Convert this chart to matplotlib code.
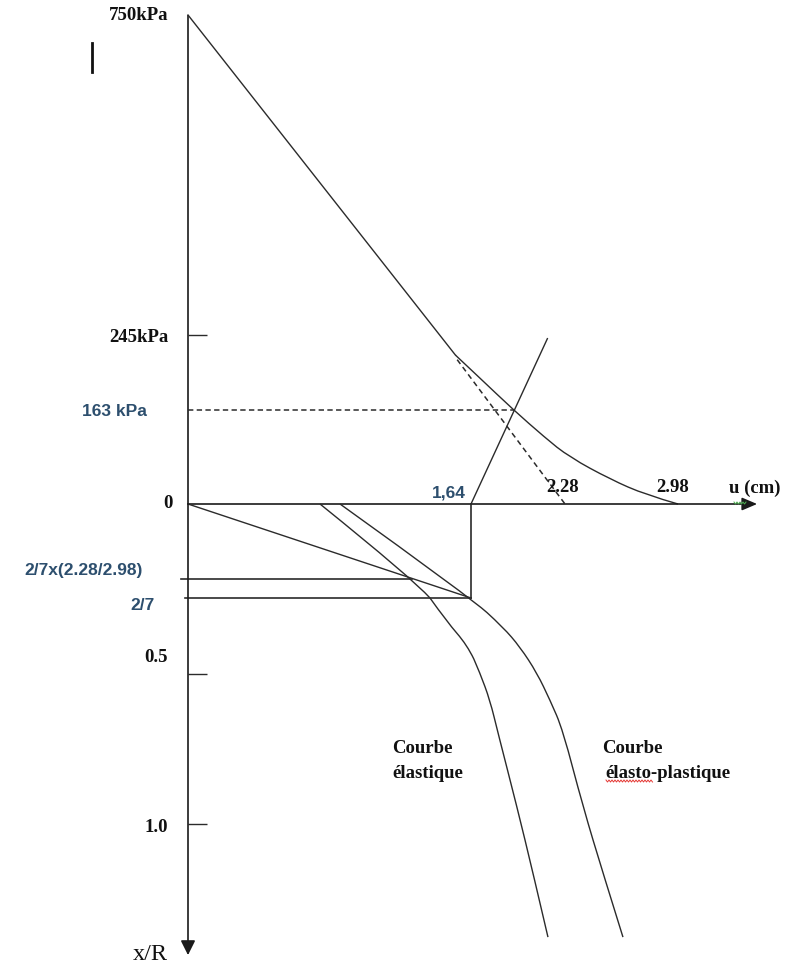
import numpy as np
import matplotlib
matplotlib.use("Agg")
import matplotlib.pyplot as plt
from matplotlib.path import Path
from matplotlib.patches import PathPatch

# ---------------------------------------------------------------------------
# Data (convergence-confinement diagram)
# ---------------------------------------------------------------------------
p_initial = 750.0          # kPa, initial support pressure
p_limit = 245.0            # kPa, elastic limit
p_equilibrium = 163.0      # kPa, equilibrium pressure
u_support = 1.64           # cm, displacement when the support is installed
u_elastic = 2.28           # cm, final elastic displacement
u_plastic = 2.98           # cm, final elasto-plastic displacement
r_install = 2 / 7          # x/R at installation
r_scaled = 2 / 7 * (u_elastic / u_plastic)

# Ground reaction curve: straight elastic branch, then plastic branch
grc_elastic_u = [0.0, 1.55]
grc_elastic_p = [750, 223]
grc_plastic_u = [1.55, 1.70, 1.93, 2.14, 2.31, 2.56, 2.78, 2.98]
grc_plastic_p = [223, 198, 163, 116, 81, 43, 16, 0]

# Elastic extension of the ground reaction curve
elastic_ext_u = [1.56, 2.28]
elastic_ext_p = [218, 0]

# Support confinement line
support_u = [1.64, 2.16]
support_p = [0, 241]

# Longitudinal displacement profiles (u in cm, x/R)
el_profile_u = [0.765, 1.304, 1.501, 1.617, 1.701, 1.769, 1.824,
                1.953, 2.062, 2.164]
el_profile_r = [0.0, 0.2186, 0.353, 0.418, 0.497, 0.587, 0.697,
                0.943, 1.163, 1.377]
ep_profile_u = [0.881, 1.64, 1.858, 1.974, 2.089, 2.178, 2.266, 2.392,
                2.515, 2.639]
ep_profile_r = [0.0, 0.2857, 0.368, 0.424, 0.497, 0.587, 0.687, 0.943,
                1.163, 1.377]

# Axis ends
u_axis_end = 3.47
r_axis_end = 1.437

# Tick values and labels
p_ticks = [750, 245, 0]
p_tick_labels = ["750kPa", "245kPa", "0"]
r_ticks = [0.5, 1.0]
r_tick_labels = ["0.5", "1.0"]

# ---------------------------------------------------------------------------
# Schematic (non-linear) scales: value anchors -> pixel positions
# ---------------------------------------------------------------------------
W, H = 794, 965
U_ANCHORS = [0.0, u_support, u_elastic, u_plastic]
U_PIXELS = [188, 471, 565, 678]
P_ANCHORS = [0.0, p_equilibrium, p_limit, p_initial]
P_PIXELS = [504, 410, 335, 15]
R_ANCHORS = [0.0, r_scaled, r_install, 0.5, 1.0]
R_PIXELS = [504, 579, 598, 674, 824]


def piecewise(xs, ys):
    xs = np.asarray(xs, float)
    ys = np.asarray(ys, float)
    s0 = (ys[1] - ys[0]) / (xs[1] - xs[0])
    s1 = (ys[-1] - ys[-2]) / (xs[-1] - xs[-2])

    def f(v):
        v = np.asarray(v, float)
        out = np.interp(v, xs, ys)
        out = np.where(v < xs[0], ys[0] + (v - xs[0]) * s0, out)
        out = np.where(v > xs[-1], ys[-1] + (v - xs[-1]) * s1, out)
        return out
    return f


u_fwd = piecewise(U_ANCHORS, U_PIXELS)
u_inv = piecewise(U_PIXELS, U_ANCHORS)
p_up = [H - v for v in P_PIXELS]
p_fwd = piecewise(P_ANCHORS, p_up)
p_inv = piecewise(p_up, P_ANCHORS)
r_fwd = piecewise(R_ANCHORS, R_PIXELS)
r_inv = piecewise(R_PIXELS, R_ANCHORS)

fig = plt.figure(figsize=(W / 100, H / 100), dpi=100)
ax_p = fig.add_axes([0, 0, 1, 1])
ax_r = fig.add_axes([0, 0, 1, 1])
ax_deco = fig.add_axes([0, 0, 1, 1])
for ax in (ax_p, ax_r):
    ax.set_xscale("function", functions=(u_fwd, u_inv))
    ax.set_xlim(float(u_inv(0)), float(u_inv(W)))
    ax.axis("off")
    ax.patch.set_alpha(0)
ax_p.set_yscale("function", functions=(p_fwd, p_inv))
ax_p.set_ylim(float(p_inv(0)), float(p_inv(H)))
ax_r.set_yscale("function", functions=(r_fwd, r_inv))
ax_r.set_ylim(float(r_inv(H)), float(r_inv(0)))
ax_deco.set_xlim(0, W)
ax_deco.set_ylim(H, 0)
ax_deco.axis("off")
ax_deco.patch.set_alpha(0)

INK = "#2b2b2b"
AX_INK = "#1a1a1a"
BLUE = "#2d4f6e"
LW = 1.0
SERIF = dict(family="Liberation Serif", fontweight="bold", fontsize=13.5,
             color="#111111")
SANS = dict(family="Liberation Sans", fontweight="bold", fontsize=12.5,
            color=BLUE)


def smooth_curve(ax, xs, ys, **kw):
    """Draw a smooth quadratic-Bezier curve guided by the given points."""
    pts = list(zip(xs, ys))
    verts = [pts[0]]
    codes = [Path.MOVETO]
    for i in range(1, len(pts) - 2):
        mid = ((pts[i][0] + pts[i + 1][0]) / 2, (pts[i][1] + pts[i + 1][1]) / 2)
        verts += [pts[i], mid]
        codes += [Path.CURVE3, Path.CURVE3]
    verts += [pts[-2], pts[-1]]
    codes += [Path.CURVE3, Path.CURVE3]
    ax.add_patch(PathPatch(Path(verts, codes), fill=False, **kw))


# --- axes -------------------------------------------------------------------
ax_p.plot([0, 0], [p_initial, 0], color=AX_INK, lw=1.2, solid_capstyle="butt")
ax_r.annotate("", xy=(0, r_axis_end), xytext=(0, 0),
              arrowprops=dict(arrowstyle="-|>", color=AX_INK, lw=1.2,
                              mutation_scale=22, shrinkA=0, shrinkB=0))
ax_p.annotate("", xy=(u_axis_end, 0), xytext=(0, 0),
              arrowprops=dict(arrowstyle="-|>,head_length=0.4,head_width=0.17",
                              color=AX_INK, lw=1.2, mutation_scale=23,
                              shrinkA=0, shrinkB=0))

# ticks (drawn to the right of the vertical axis)
ax_p.plot([0], [p_limit], marker=1, ms=14, mew=1.0, color=INK)
for rv in r_ticks:
    ax_r.plot([0], [rv], marker=1, ms=14, mew=1.0, color=INK)

# --- upper part: pressure vs displacement ------------------------------------
ax_p.plot(grc_elastic_u, grc_elastic_p, color=INK, lw=LW)
smooth_curve(ax_p, grc_plastic_u, grc_plastic_p, edgecolor=INK, lw=LW)
ax_p.plot(elastic_ext_u, elastic_ext_p, color=INK, lw=1.1,
          linestyle=(0, (3.5, 2.5)))
ax_p.plot(support_u, support_p, color=INK, lw=LW)
ax_p.plot([0, 1.93], [p_equilibrium, p_equilibrium], color=INK, lw=1.1,
          linestyle=(0, (3.5, 2.2)))

# --- lower part: displacement profiles along the tunnel ----------------------
ax_r.plot([0, u_support], [0, r_install], color=INK, lw=LW)
ax_r.plot([u_support, u_support], [0, r_install], color=INK, lw=1.2)
ax_r.plot([-0.02, u_support], [r_install, r_install], color=INK, lw=1.2)
ax_r.plot([-0.04, 1.30], [r_scaled, r_scaled], color=INK, lw=1.2)
smooth_curve(ax_r, el_profile_u, el_profile_r, edgecolor=INK, lw=LW)
smooth_curve(ax_r, ep_profile_u, ep_profile_r, edgecolor=INK, lw=LW)

# --- labels ------------------------------------------------------------------
label_offsets = {750: (-20, 0), 245: (-20, -3), 0: (-15, 0)}
for pv, txt in zip(p_ticks, p_tick_labels):
    ax_p.annotate(txt, xy=(0, pv), xytext=label_offsets[pv],
                  textcoords="offset pixels", ha="right", va="center", **SERIF)
r_offsets = {0.5: (-20, 16), 1.0: (-20, -3)}
for rv, txt in zip(r_ticks, r_tick_labels):
    ax_r.annotate(txt, xy=(0, rv), xytext=r_offsets[rv],
                  textcoords="offset pixels", ha="right", va="center", **SERIF)

ax_p.annotate("163 kPa", xy=(0, p_equilibrium), xytext=(-41, -2),
              textcoords="offset pixels", ha="right", va="center", **SANS)
ax_p.annotate("1,64", xy=(u_support, 0), xytext=(-5, 11),
              textcoords="offset pixels", ha="right", va="center", **SANS)
ax_p.annotate("2.28", xy=(u_elastic, 0), xytext=(-2, 16),
              textcoords="offset pixels", ha="center", va="center", **SERIF)
ax_p.annotate("2.98", xy=(u_plastic, 0), xytext=(-5, 16),
              textcoords="offset pixels", ha="center", va="center", **SERIF)
ax_p.annotate("u (cm)", xy=(u_axis_end, 0), xytext=(-2, 16),
              textcoords="offset pixels", ha="center", va="center", **SERIF)
ax_r.annotate("2/7x(2.28/2.98)", xy=(0, r_scaled), xytext=(-45, 9),
              textcoords="offset pixels", ha="right", va="center", **SANS)
ax_r.annotate("2/7", xy=(0, r_install), xytext=(-33, -7),
              textcoords="offset pixels", ha="right", va="center", **SANS)
ax_r.annotate("x/R", xy=(0, r_axis_end), xytext=(-20, 1),
              textcoords="offset pixels", ha="right", va="center",
              family="Liberation Serif", fontsize=17.5, color="#111111")

ax_r.text(1.182, 0.747, "Courbe", ha="left", va="center", **SERIF)
ax_r.text(1.182, 0.830, "élastique", ha="left", va="center", **SERIF)
ax_r.text(2.509, 0.747, "Courbe", ha="left", va="center", **SERIF)
ax_r.text(2.53, 0.830, "élasto-plastique", ha="left", va="center", **SERIF)

# --- small marks: cursor bar and spell-check squiggles -------------------------
ax_deco.plot([92, 92], [43, 72], color="#111111", lw=2.0)


def squiggle(x0, x1, y, color):
    xs = np.arange(x0, x1 + 0.1, 1.5)
    ys = y + np.where(np.arange(len(xs)) % 2 == 0, -1.0, 1.0)
    ax_deco.plot(xs, ys, color=color, lw=0.7)


squiggle(734, 746, 503, "#4caf50")
squiggle(606, 653, 781, "#e53935")

fig.savefig("out.png", dpi=100)
